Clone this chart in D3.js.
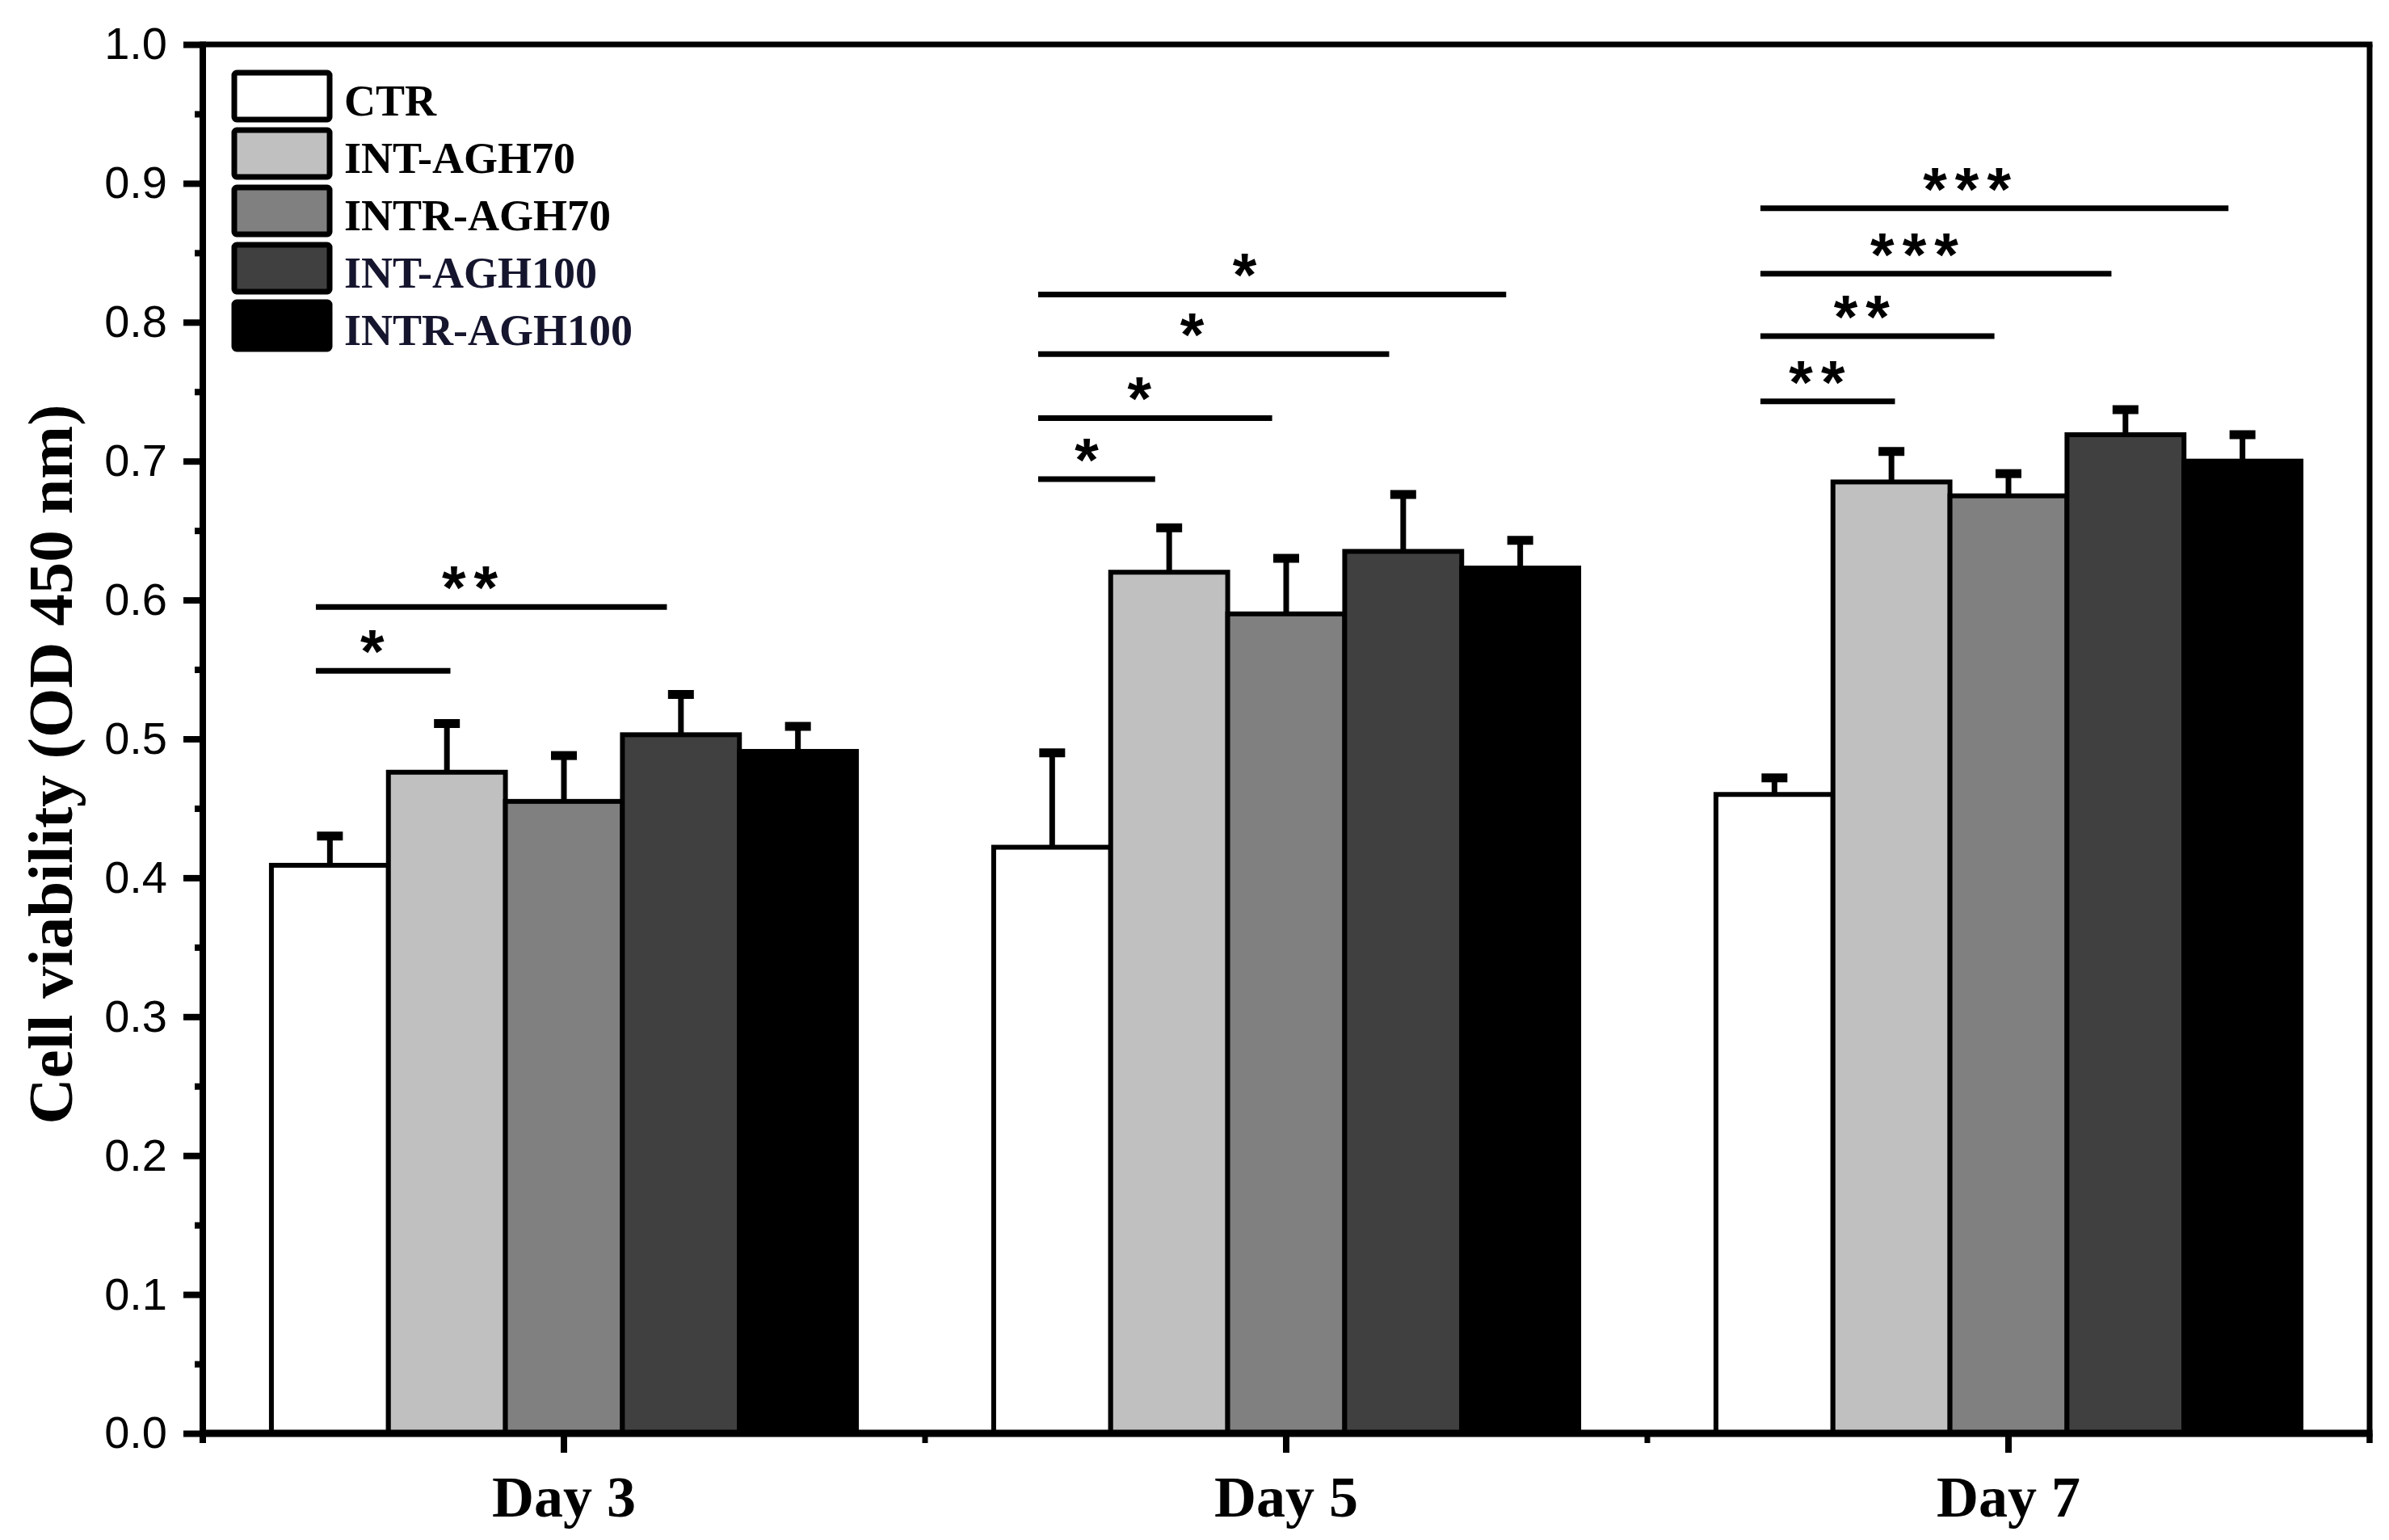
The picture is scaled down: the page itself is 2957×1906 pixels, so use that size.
<!DOCTYPE html>
<html>
<head>
<meta charset="utf-8">
<script src="https://cdn.jsdelivr.net/npm/d3@7"></script>
<style>
  html, body { margin: 0; padding: 0; background: #fff; }
</style>
</head>
<body>
<div id="chart"></div>
<script>
const days = ["Day 3", "Day 5", "Day 7"];
const series = ["CTR", "INT-AGH70", "INTR-AGH70", "INT-AGH100", "INTR-AGH100"];
const seriesColors = ["#ffffff", "#c0c0c0", "#808080", "#404040", "#000000"];
const legendTextColors = ["#000", "#000", "#000", "#15152e", "#15152e"];

const meansDay3 = [0.409, 0.476, 0.455, 0.503, 0.491];
const errDay3 = [0.021, 0.035, 0.033, 0.029, 0.018];
const meansDay5 = [0.422, 0.620, 0.590, 0.635, 0.623];
const errDay5 = [0.068, 0.032, 0.040, 0.041, 0.020];
const meansDay7 = [0.460, 0.685, 0.675, 0.719, 0.700];
const errDay7 = [0.012, 0.022, 0.016, 0.018, 0.019];

const yTicks = [0, 0.1, 0.2, 0.3, 0.4, 0.5, 0.6, 0.7, 0.8, 0.9, 1.0];

// significance brackets: day, from bar, to bar, height, stars
const sigDays = ["Day 3", "Day 3", "Day 5", "Day 5", "Day 5", "Day 5", "Day 7", "Day 7", "Day 7", "Day 7"];
const sigFrom = [0, 0, 0, 0, 0, 0, 0, 0, 0, 0];
const sigTo = [1.15, 3, 1, 2, 3, 4, 1.15, 2, 3, 4];
const sigLevel = [0.549, 0.595, 0.687, 0.731, 0.777, 0.820, 0.743, 0.790, 0.835, 0.882];
const sigStars = ["*", "**", "*", "*", "*", "*", "**", "**", "***", "***"];

const config = {
  width: 2957,
  height: 1906,
  margin: { top: 55, right: 24, bottom: 132, left: 251 },
};
const { width, height, margin } = config;

const meansByDay = [meansDay3, meansDay5, meansDay7];
const errByDay = [errDay3, errDay5, errDay7];
const data = [];
days.forEach((day, i) => {
  series.forEach((s, j) => {
    data.push({ day, series: s, idx: j, mean: meansByDay[i][j], err: errByDay[i][j] });
  });
});

const svg = d3.select("#chart")
  .append("svg")
  .attr("width", width)
  .attr("height", height)
  .style("background", "#fff");

const plotRight = width - margin.right;
const plotBottom = height - margin.bottom;

const x0 = d3.scaleBand().domain(days).range([margin.left, plotRight]).padding(0);
const x1 = d3.scaleBand()
  .domain(series)
  .range([x0.bandwidth() * 0.095, x0.bandwidth() * 0.905])
  .padding(0);
const y = d3.scaleLinear().domain([0, 1]).range([plotBottom, margin.top]);

const serif = "'Liberation Serif', 'Times New Roman', serif";
const sans = "'Liberation Sans', Arial, sans-serif";

// Bars
svg.append("g")
  .selectAll("rect")
  .data(data)
  .join("rect")
  .attr("x", (d) => x0(d.day) + x1(d.series))
  .attr("y", (d) => y(d.mean))
  .attr("width", x1.bandwidth())
  .attr("height", (d) => y(0) - y(d.mean))
  .attr("fill", (d) => seriesColors[d.idx])
  .attr("stroke", "#000")
  .attr("stroke-width", 6);

// Error bars (upper only)
const barCenter = (d) => x0(d.day) + x1(d.series) + x1.bandwidth() / 2;
const errG = svg.append("g");
errG.selectAll("line.stem")
  .data(data)
  .join("line")
  .attr("class", "stem")
  .attr("x1", barCenter)
  .attr("x2", barCenter)
  .attr("y1", (d) => y(d.mean))
  .attr("y2", (d) => y(d.mean + d.err))
  .attr("stroke", "#000")
  .attr("stroke-width", 7);
errG.selectAll("line.cap")
  .data(data)
  .join("line")
  .attr("class", "cap")
  .attr("x1", (d) => barCenter(d) - 16)
  .attr("x2", (d) => barCenter(d) + 16)
  .attr("y1", (d) => y(d.mean + d.err))
  .attr("y2", (d) => y(d.mean + d.err))
  .attr("stroke", "#000")
  .attr("stroke-width", 11);

// Significance brackets (bar index may be fractional)
const seriesPos = d3.scaleLinear()
  .domain([0, series.length - 1])
  .range([x1(series[0]) + x1.bandwidth() / 2, x1(series[series.length - 1]) + x1.bandwidth() / 2]);
const sig = sigDays.map((day, i) => {
  const off = -x1.bandwidth() * 0.12;
  const start = x0(day) + seriesPos(sigFrom[i]) + off;
  const end = x0(day) + seriesPos(sigTo[i]) + off;
  return { start, end, level: sigLevel[i], stars: sigStars[i] };
});
const sigG = svg.append("g");
sigG.selectAll("line")
  .data(sig)
  .join("line")
  .attr("x1", (d) => d.start)
  .attr("x2", (d) => d.end)
  .attr("y1", (d) => y(d.level))
  .attr("y2", (d) => y(d.level))
  .attr("stroke", "#000")
  .attr("stroke-width", 7);
sigG.selectAll("text")
  .data(sig)
  .join("text")
  .attr("x", (d) => d.start + 0.45 * (d.end - d.start))
  .attr("y", (d) => y(d.level) + 2)
  .attr("text-anchor", "middle")
  .attr("font-family", sans)
  .attr("font-weight", "bold")
  .attr("font-size", 76)
  .attr("letter-spacing", 10)
  .text((d) => d.stars);

// Frame (top and right)
svg.append("line")
  .attr("x1", margin.left).attr("x2", plotRight + 3.5)
  .attr("y1", margin.top).attr("y2", margin.top)
  .attr("stroke", "#000").attr("stroke-width", 7);
svg.append("line")
  .attr("x1", plotRight).attr("x2", plotRight)
  .attr("y1", margin.top).attr("y2", plotBottom + 12)
  .attr("stroke", "#000").attr("stroke-width", 7);

// Y axis
const yAxis = svg.append("g")
  .attr("transform", `translate(${margin.left},0)`)
  .call(d3.axisLeft(y).tickValues(yTicks).tickFormat(d3.format(".1f")).tickSize(24).tickSizeOuter(0).tickPadding(20));
yAxis.select(".domain").remove();
yAxis.selectAll(".tick line").attr("stroke-width", 8);
yAxis.selectAll(".tick text")
  .attr("font-family", sans)
  .attr("font-size", 56)
  .attr("fill", "#000");

const yMinor = svg.append("g")
  .attr("transform", `translate(${margin.left},0)`)
  .call(d3.axisLeft(y).tickValues(yTicks.slice(0, -1).map((t) => t + 0.05)).tickSize(10).tickFormat(""));
yMinor.select(".domain").remove();
yMinor.selectAll(".tick line").attr("stroke-width", 8);

svg.append("line")
  .attr("x1", margin.left).attr("x2", margin.left)
  .attr("y1", margin.top - 3.5).attr("y2", plotBottom + 12)
  .attr("stroke", "#000").attr("stroke-width", 8);

// X axis
const xAxis = svg.append("g")
  .attr("transform", `translate(0,${plotBottom})`)
  .call(d3.axisBottom(x0).tickSize(24).tickSizeOuter(0).tickPadding(28));
xAxis.select(".domain").remove();
xAxis.selectAll(".tick line").attr("stroke-width", 8);
xAxis.selectAll(".tick text")
  .attr("font-family", serif)
  .attr("font-weight", "bold")
  .attr("font-size", 72)
  .attr("fill", "#000");

const bounds = days.map((d) => x0(d)).concat([plotRight]);
svg.append("g")
  .selectAll("line")
  .data(bounds)
  .join("line")
  .attr("x1", (d) => d).attr("x2", (d) => d)
  .attr("y1", plotBottom).attr("y2", plotBottom + 12)
  .attr("stroke", "#000").attr("stroke-width", 7);

svg.append("line")
  .attr("x1", margin.left - 4).attr("x2", plotRight + 3.5)
  .attr("y1", plotBottom).attr("y2", plotBottom)
  .attr("stroke", "#000").attr("stroke-width", 9);

// Y title
svg.append("text")
  .attr("transform", `translate(89,946) rotate(-90)`)
  .attr("text-anchor", "middle")
  .attr("font-family", serif)
  .attr("font-weight", "bold")
  .attr("font-size", 79)
  .text("Cell viability (OD 450 nm)");

// Legend
const legend = svg.append("g");
const legendY = d3.scaleBand().domain(series).range([86, 86 + 71 * series.length]);
legend.selectAll("rect")
  .data(series)
  .join("rect")
  .attr("x", 290)
  .attr("y", (d) => legendY(d) + 4)
  .attr("width", 118)
  .attr("height", 58)
  .attr("rx", 3)
  .attr("fill", (d, i) => seriesColors[i])
  .attr("stroke", "#000")
  .attr("stroke-width", 7);
legend.selectAll("text")
  .data(series)
  .join("text")
  .attr("x", 426)
  .attr("y", (d) => legendY(d) + 33 + 24)
  .attr("font-family", serif)
  .attr("font-weight", "bold")
  .attr("font-size", 54)
  .attr("fill", (d, i) => legendTextColors[i])
  .text((d) => d);
</script>
</body>
</html>
